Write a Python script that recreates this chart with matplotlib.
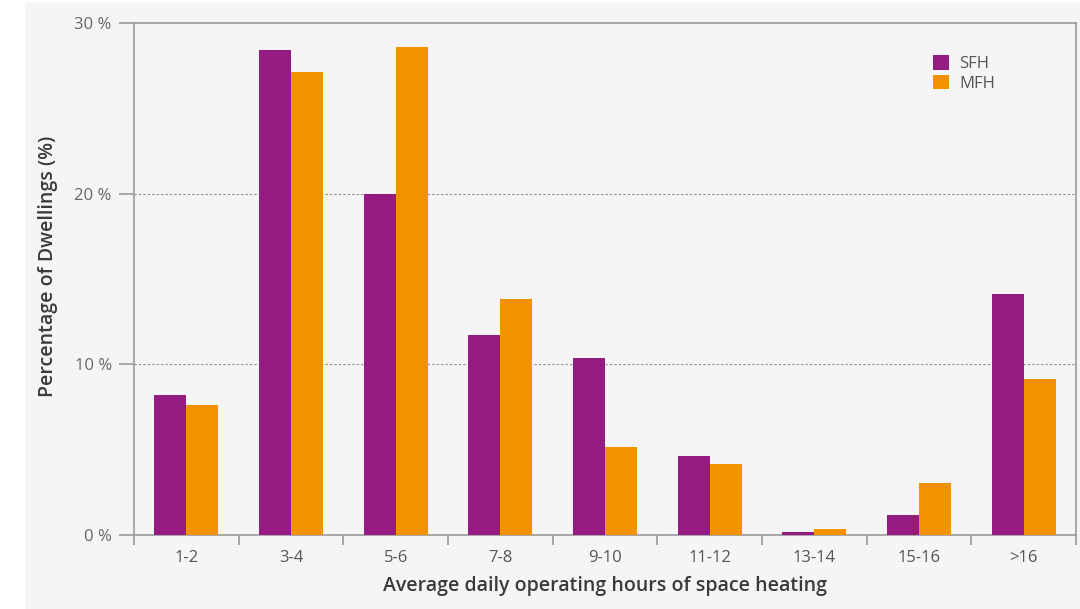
import matplotlib.pyplot as plt
from matplotlib.patches import Rectangle
import numpy as np

categories = ['1-2', '3-4', '5-6', '7-8', '9-10', '11-12', '13-14', '15-16', '>16']
sfh = [8.2, 28.4, 20.0, 11.7, 10.4, 4.6, 0.15, 1.15, 14.1]
mfh = [7.6, 27.1, 28.6, 13.8, 5.15, 4.15, 0.35, 3.05, 9.15]
yticks = [0, 10, 20, 30]

purple = '#951b81'
orange = '#f39200'
bg = '#f5f5f5'
spine_col = '#9a9a9a'


def main():
    plt.rcParams['font.family'] = ['Open Sans', 'DejaVu Sans']
    fig = plt.figure(figsize=(10.8, 6.09), dpi=100, facecolor='white')
    fig.patches.append(Rectangle((25 / 1080, 0), 1 - 25 / 1080, 1 - 3 / 609,
                                 transform=fig.transFigure, facecolor=bg,
                                 edgecolor='none', zorder=-10))
    ax = fig.add_axes([134 / 1080, 1 - 535 / 609, 942 / 1080, 512 / 609])
    ax.set_facecolor(bg)

    x = np.arange(len(categories))
    w = 0.306
    ax.bar(x - w / 2, sfh, w, color=purple, label='SFH', zorder=3)
    ax.bar(x + w / 2, mfh, w, color=orange, label='MFH', zorder=3)

    ax.set_xlim(-0.5, len(categories) - 0.5)
    ax.set_ylim(0, 30)
    ax.set_yticks(yticks)
    ax.set_yticklabels(['%d %%' % v for v in yticks])
    ax.set_xticks(x)
    ax.set_xticklabels(categories)
    ax.set_xticks(np.arange(len(categories) + 1) - 0.5, minor=True)
    ax.tick_params(axis='x', which='major', length=0, pad=11, labelsize=12, labelcolor='#555555')
    ax.tick_params(axis='x', which='minor', length=7, width=1.2, color=spine_col)
    ax.tick_params(axis='y', length=11, width=1.2, color=spine_col, pad=5,
                   labelsize=12, labelcolor='#666666')

    for v in yticks[1:-1]:
        ax.axhline(v, color='#888888', linestyle=(0, (2, 2)), linewidth=0.8, zorder=1)
    for s in ax.spines.values():
        s.set_color(spine_col)
        s.set_linewidth(1.2)

    ax.set_xlabel('Average daily operating hours of space heating', fontsize=14,
                  fontweight='semibold', color='#3a3a3a', labelpad=7)
    ax.set_ylabel('Percentage of Dwellings (%)', fontsize=14,
                  fontweight='semibold', color='#3a3a3a')
    ax.yaxis.set_label_coords(-0.081, 0.525)

    leg = ax.legend(loc='upper left', bbox_to_anchor=(0.832, 0.967), frameon=False,
                    fontsize=12, handlelength=1.0, handleheight=1.0,
                    handletextpad=0.6, labelspacing=0.15)
    for t in leg.get_texts():
        t.set_color('#555555')

    fig.savefig('out.png', dpi=100, facecolor=fig.get_facecolor())


if __name__ == '__main__':
    main()
